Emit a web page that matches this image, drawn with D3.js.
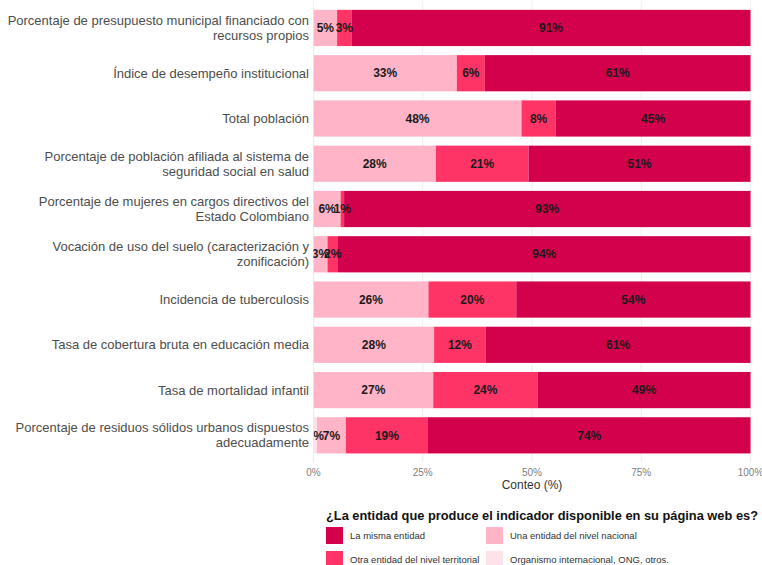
<!DOCTYPE html>
<html><head><meta charset="utf-8">
<script src="https://cdn.jsdelivr.net/npm/d3@7"></script>
<style>body{margin:0;background:#fff;}svg{display:block;font-family:"Liberation Sans",Arial,sans-serif;}</style>
</head><body>
<svg id="chart" width="762" height="565"></svg>
<script>
const categories = [
  ["Porcentaje de presupuesto municipal financiado con","recursos propios"],
  ["Índice de desempeño institucional"],
  ["Total población"],
  ["Porcentaje de población afiliada al sistema de","seguridad social en salud"],
  ["Porcentaje de mujeres en cargos directivos del","Estado Colombiano"],
  ["Vocación de uso del suelo (caracterización y","zonificación)"],
  ["Incidencia de tuberculosis"],
  ["Tasa de cobertura bruta en educación media"],
  ["Tasa de mortalidad infantil"],
  ["Porcentaje de residuos sólidos urbanos dispuestos","adecuadamente"]
];
const seriesNames = ["Organismo internacional, ONG, otros.","Una entidad del nivel nacional","Otra entidad del nivel territorial","La misma entidad"];
const organismo   = [0,0,0,0,0,0,0,0,0,0.8];
const nacional    = [5.4,32.8,47.6,28.0,6.2,3.2,26.3,27.6,27.4,6.6];
const territorial = [3.3,6.4,7.8,21.2,0.8,2.4,20.1,11.8,23.9,18.8];
const misma       = [91.3,60.8,44.6,50.8,93.0,94.4,53.6,60.6,48.7,73.8];
const xTicks = [0,25,50,75,100];
const colors = ["#FFE1E9","#FFB5C7","#FF3466","#D3004B"];

const svg = d3.select("#chart");
const x = d3.scaleLinear().domain([0,100]).range([313.5,750.5]);
const y = d3.scaleBand().domain(d3.range(categories.length)).range([0.8,462.5]).paddingInner(0.2).paddingOuter(0.2);

const rows = categories.map((c,i)=>({i, s0:organismo[i], s1:nacional[i], s2:territorial[i], s3:misma[i]}));
const stack = d3.stack().keys(["s0","s1","s2","s3"]);
const stacked = stack(rows);

// gridlines
svg.append("g").selectAll("line").data(xTicks).join("line")
  .attr("x1",d=>x(d)).attr("x2",d=>x(d)).attr("y1",y.range()[0]).attr("y2",y.range()[1])
  .attr("stroke","#ebebeb").attr("stroke-width",0.9);

svg.append("defs").append("clipPath").attr("id","panel").append("rect")
  .attr("x",x(0)).attr("y",0).attr("width",x(100)-x(0)+2).attr("height",463);

const panel = svg.append("g").attr("clip-path","url(#panel)");
stacked.forEach((layer,k)=>{
  panel.append("g").selectAll("rect").data(layer).join("rect")
    .attr("x",d=>x(d[0])).attr("width",d=>x(d[1])-x(d[0]))
    .attr("y",d=>y(d.data.i)).attr("height",y.bandwidth())
    .attr("fill",colors[k]);
});
stacked.forEach((layer,k)=>{
  panel.append("g").selectAll("text").data(layer.filter(d=>d[1]-d[0]>0)).join("text")
    .attr("x",d=>x((d[0]+d[1])/2)).attr("y",d=>y(d.data.i)+y.bandwidth()/2)
    .attr("dy","0.35em").attr("text-anchor","middle")
    .attr("font-size",12).attr("font-weight","bold").attr("fill","#1a1a1a")
    .text(d=>Math.round(d[1]-d[0])+"%");
});

// y labels
const yl = svg.append("g");
categories.forEach((lines,i)=>{
  const cy = y(i)+y.bandwidth()/2;
  const lh = 15;
  const t = yl.append("text").attr("text-anchor","end").attr("font-size",13).attr("fill","#4d4d4d");
  lines.forEach((ln,j)=>{
    t.append("tspan").attr("x",309).attr("y",cy + (j-(lines.length-1)/2)*lh).attr("dy","0.35em").text(ln);
  });
});

// x axis labels
svg.append("g").selectAll("text").data(xTicks).join("text")
  .attr("x",d=>x(d)).attr("y",472).attr("dy","0.35em").attr("text-anchor","middle")
  .attr("font-size",10).attr("fill","#808080").text(d=>d+"%");
svg.append("text").attr("x",x(50)).attr("y",485).attr("dy","0.35em").attr("text-anchor","middle")
  .attr("font-size",12).attr("fill","#333").text("Conteo (%)");

// legend
const lg = svg.append("g");
lg.append("text").attr("x",326).attr("y",520).attr("font-size",12.4).attr("font-weight","bold").attr("fill","#111")
  .attr("textLength",432).attr("lengthAdjust","spacingAndGlyphs")
  .text("¿La entidad que produce el indicador disponible en su página web es?");
const legendItems = [
  {name:seriesNames[3], c:colors[3], col:0,row:0},
  {name:seriesNames[2], c:colors[2], col:0,row:1},
  {name:seriesNames[1], c:colors[1], col:1,row:0},
  {name:seriesNames[0], c:colors[0], col:1,row:1}
];
legendItems.forEach(d=>{
  const kx = d.col? 486 : 326;
  const ky = 527 + d.row*24;
  lg.append("rect").attr("x",kx).attr("y",ky).attr("width",17).attr("height",17).attr("fill",d.c);
  lg.append("text").attr("x",kx+24).attr("y",ky+8.5).attr("dy","0.35em").attr("font-size",9.5).attr("fill","#333").text(d.name);
});
</script>
</body></html>
